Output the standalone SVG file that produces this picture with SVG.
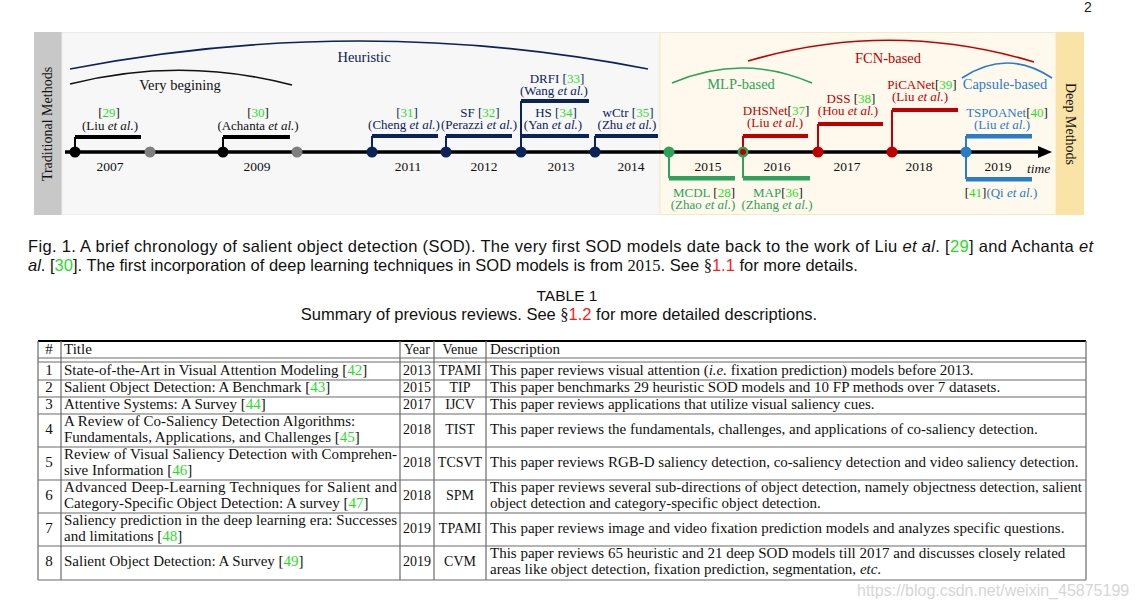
<svg xmlns="http://www.w3.org/2000/svg" width="1137" height="609" viewBox="0 0 1137 609">
<style>
.s{font-family:"Liberation Serif","Times New Roman",serif}
.a{font-family:"Liberation Sans",Arial,sans-serif}
.tl{font-size:13px}
.yr{font-size:13.5px;fill:#111}
.hd{font-size:14.5px}
.vt{font-size:14px}
.navy{fill:#0c2358}
.red{fill:#c00000}
.grn{fill:#2ca25a}
.blu{fill:#2a7cc7}
.cg{fill:#1fe01f}
.k{fill:#111}
.i{font-style:italic}
.tb{font-size:15px;fill:#111}
.yv{font-size:14px}
.cap{font-size:16.5px;fill:#111}
.arc{fill:none;stroke-width:1.6}
.tline{stroke:#6a6a6a;stroke-width:1.2}
</style>
<rect width="1137" height="609" fill="#ffffff"/>
<text class="a" x="1084" y="12" font-size="14" fill="#222">2</text>

<!-- panels -->
<g id="panel-traditional">
<rect x="34" y="32" width="28" height="183" fill="#c8c8c8"/>
<rect x="62" y="32.5" width="598" height="182" fill="#f7f7f7" stroke="#ececec" stroke-width="1"/>
<text class="s vt k" transform="translate(52,124) rotate(-90)" text-anchor="middle">Traditional Methods</text>
</g>
<g id="panel-deep">
<rect x="660" y="32.5" width="396" height="182" fill="#fef9ec" stroke="#f6e8bf" stroke-width="1"/>
<rect x="1056" y="32" width="28" height="183" fill="#fae3a6"/>
<text class="s vt k" transform="translate(1066,124) rotate(90)" text-anchor="middle">Deep Methods</text>
</g>

<!-- connectors -->
<g id="connectors">
<line x1="65" y1="152" x2="1040" y2="152" stroke="#000" stroke-width="3.5"/>
<polygon points="1038,146 1052,152 1038,158" fill="#000"/>
<path class="arc" d="M70,69 Q360,13 648,69" stroke="#0c2358"/>
<path class="arc" d="M70,84 Q181,56 292,85" stroke="#111"/>
<path class="arc" d="M672,83 Q742,53 812,83" stroke="#2ca25a"/>
<path class="arc" d="M748,61 Q891,19 1034,62" stroke="#c00000"/>
<path class="arc" d="M962,78 Q1007,48 1052,78" stroke="#2a7cc7"/>
<g stroke-width="2">
<line x1="75" y1="137" x2="75" y2="152" stroke="#000"/>
<line x1="223" y1="137" x2="223" y2="152" stroke="#000"/>
<line x1="372" y1="136" x2="372" y2="152" stroke="#0c2358"/>
<line x1="446" y1="136" x2="446" y2="152" stroke="#0c2358"/>
<line x1="521" y1="101" x2="521" y2="152" stroke="#0c2358"/>
<line x1="595" y1="136" x2="595" y2="152" stroke="#0c2358"/>
<line x1="669" y1="152" x2="669" y2="178" stroke="#2ca25a"/>
<line x1="743" y1="152" x2="743" y2="178" stroke="#2ca25a"/>
<line x1="743" y1="136" x2="743" y2="152" stroke="#c00000"/>
<line x1="818" y1="124" x2="818" y2="152" stroke="#c00000"/>
<line x1="892" y1="110" x2="892" y2="152" stroke="#c00000"/>
<line x1="966" y1="136" x2="966" y2="179" stroke="#2a7cc7"/>
</g>
</g>

<!-- arc labels -->
<g id="label-heuristic"><text class="s hd navy" x="364" y="62" text-anchor="middle">Heuristic</text></g>
<g id="label-very-begining"><text class="s hd k" x="180" y="90" text-anchor="middle">Very begining</text></g>
<g id="label-mlp"><text class="s hd grn" x="741" y="89" text-anchor="middle">MLP-based</text></g>
<g id="label-fcn"><text class="s hd red" x="888" y="63" text-anchor="middle">FCN-based</text></g>
<g id="label-capsule"><text class="s hd blu" x="1005" y="89" text-anchor="middle">Capsule-based</text></g>

<!-- year labels -->
<g id="years" class="s yr" text-anchor="middle">
<text x="110" y="171">2007</text>
<text x="257" y="171">2009</text>
<text x="408" y="171">2011</text>
<text x="484" y="171">2012</text>
<text x="561" y="171">2013</text>
<text x="631" y="171">2014</text>
<text x="708" y="171">2015</text>
<text x="777" y="171">2016</text>
<text x="847" y="171">2017</text>
<text x="919" y="171">2018</text>
<text x="998" y="171">2019</text>
<text x="1027" y="173" text-anchor="start" class="i">time</text>
</g>

<!-- nodes -->
<g id="node-liu2007">
<rect x="75" y="135" width="66" height="4" fill="#000"/>
<circle cx="75" cy="152" r="5.5" fill="#000"/>
<circle cx="150" cy="152" r="5.5" fill="#7f7f7f"/>
<text class="s tl k" x="109" y="117" text-anchor="middle">[<tspan class="cg">29</tspan>]</text>
<text class="s tl k" x="110" y="130" text-anchor="middle">(Liu <tspan class="i">et al.</tspan>)</text>
</g>
<g id="node-achanta2009">
<rect x="223" y="135" width="67" height="4" fill="#000"/>
<circle cx="223" cy="152" r="5.5" fill="#000"/>
<circle cx="297" cy="152" r="5.5" fill="#7f7f7f"/>
<text class="s tl k" x="258" y="117" text-anchor="middle">[<tspan class="cg">30</tspan>]</text>
<text class="s tl k" x="258" y="130" text-anchor="middle">(Achanta <tspan class="i">et al.</tspan>)</text>
</g>
<g id="node-cheng2011">
<rect x="372" y="134" width="66" height="4" fill="#0c2358"/>
<circle cx="372" cy="152" r="5.5" fill="#0c2358"/>
<text class="s tl navy" x="407" y="117" text-anchor="middle">[<tspan class="cg">31</tspan>]</text>
<text class="s tl navy" x="404" y="129" text-anchor="middle">(Cheng <tspan class="i">et al.</tspan>)</text>
</g>
<g id="node-sf2012">
<rect x="446" y="134" width="66" height="4" fill="#0c2358"/>
<circle cx="446" cy="152" r="5.5" fill="#0c2358"/>
<text class="s tl navy" x="480" y="117" text-anchor="middle">SF [<tspan class="cg">32</tspan>]</text>
<text class="s tl navy" x="479" y="129" text-anchor="middle">(Perazzi <tspan class="i">et al.</tspan>)</text>
</g>
<g id="node-drfi2013">
<rect x="521" y="99" width="68" height="4" fill="#0c2358"/>
<text class="s tl navy" x="557" y="83" text-anchor="middle">DRFI [<tspan class="cg">33</tspan>]</text>
<text class="s tl navy" x="554" y="95" text-anchor="middle">(Wang <tspan class="i">et al.</tspan>)</text>
</g>
<g id="node-hs2013">
<rect x="521" y="134" width="68" height="4" fill="#0c2358"/>
<circle cx="521" cy="152" r="5.5" fill="#0c2358"/>
<text class="s tl navy" x="556" y="117" text-anchor="middle">HS [<tspan class="cg">34</tspan>]</text>
<text class="s tl navy" x="553" y="129" text-anchor="middle">(Yan <tspan class="i">et al.</tspan>)</text>
</g>
<g id="node-wctr2014">
<rect x="595" y="134" width="63" height="4" fill="#0c2358"/>
<circle cx="595" cy="152" r="5.5" fill="#0c2358"/>
<text class="s tl navy" x="628" y="117" text-anchor="middle">wCtr [<tspan class="cg">35</tspan>]</text>
<text class="s tl navy" x="627" y="129" text-anchor="middle">(Zhu <tspan class="i">et al.</tspan>)</text>
</g>
<g id="node-mcdl2015">
<rect x="669" y="176" width="66" height="4.5" fill="#2ca25a"/>
<circle cx="669" cy="152" r="5.5" fill="#2ca25a"/>
<text class="s tl grn" x="704" y="197" text-anchor="middle">MCDL <tspan class="k">[</tspan><tspan class="cg">28</tspan><tspan class="k">]</tspan></text>
<text class="s tl grn" x="703" y="209" text-anchor="middle">(Zhao <tspan class="i">et al.</tspan>)</text>
</g>
<g id="node-map2016">
<rect x="743" y="176" width="67" height="4.5" fill="#2ca25a"/>
<circle cx="743" cy="152" r="5.5" fill="#2ca25a"/>
<circle cx="743" cy="152" r="3" fill="#c00000"/>
<text class="s tl grn" x="778" y="197" text-anchor="middle">MAP<tspan class="k">[</tspan><tspan class="cg">36</tspan><tspan class="k">]</tspan></text>
<text class="s tl grn" x="777" y="209" text-anchor="middle">(Zhang <tspan class="i">et al.</tspan>)</text>
</g>
<g id="node-dhsnet2016">
<rect x="743" y="134" width="65" height="4" fill="#c00000"/>
<text class="s tl red" x="776" y="115" text-anchor="middle">DHSNet<tspan class="k">[</tspan><tspan class="cg">37</tspan><tspan class="k">]</tspan></text>
<text class="s tl red" x="775" y="127" text-anchor="middle">(Liu <tspan class="i">et al.</tspan>)</text>
</g>
<g id="node-dss2017">
<rect x="818" y="122" width="65" height="4" fill="#c00000"/>
<circle cx="818" cy="152" r="5.5" fill="#c00000"/>
<text class="s tl red" x="851" y="103" text-anchor="middle">DSS <tspan class="k">[</tspan><tspan class="cg">38</tspan><tspan class="k">]</tspan></text>
<text class="s tl red" x="848" y="115" text-anchor="middle">(Hou <tspan class="i">et al.</tspan>)</text>
</g>
<g id="node-picanet2018">
<rect x="892" y="108" width="66" height="4" fill="#c00000"/>
<circle cx="892" cy="152" r="5.5" fill="#c00000"/>
<text class="s tl red" x="922" y="89" text-anchor="middle">PiCANet<tspan class="k">[</tspan><tspan class="cg">39</tspan><tspan class="k">]</tspan></text>
<text class="s tl red" x="920" y="101" text-anchor="middle">(Liu <tspan class="i">et al.</tspan>)</text>
</g>
<g id="node-tspoanet2019">
<rect x="966" y="134" width="66" height="4.5" fill="#2a7cc7"/>
<circle cx="966" cy="152" r="5.5" fill="#2a7cc7"/>
<text class="s tl blu" x="1007" y="117" text-anchor="middle">TSPOANet<tspan class="k">[</tspan><tspan class="cg">40</tspan><tspan class="k">]</tspan></text>
<text class="s tl blu" x="1002" y="129" text-anchor="middle">(Liu <tspan class="i">et al.</tspan>)</text>
</g>
<g id="node-qi2019">
<rect x="966" y="177" width="66" height="4.5" fill="#2a7cc7"/>
<text class="s tl blu" x="1001" y="197" text-anchor="middle"><tspan class="k">[</tspan><tspan class="cg">41</tspan><tspan class="k">]</tspan>(Qi <tspan class="i">et al.</tspan>)</text>
</g>

<!-- caption -->
<g id="caption" class="a cap">
<text x="28" y="252" textLength="1065" lengthAdjust="spacing">Fig. 1. A brief chronology of salient object detection (SOD). The very first SOD models date back to the work of Liu <tspan class="i">et al</tspan>. [<tspan class="cg">29</tspan>] and Achanta <tspan class="i">et</tspan></text>
<text x="28" y="271"><tspan class="i">al</tspan>. [<tspan class="cg">30</tspan>]. The first incorporation of deep learning techniques in SOD models is from <tspan class="s">2015</tspan>. See <tspan class="s">§</tspan><tspan fill="#ff1a1a">1.1</tspan> for more details.</text>
<text x="567" y="301" text-anchor="middle" font-size="15.5">TABLE 1</text>
<text x="559" y="320" text-anchor="middle">Summary of previous reviews. See <tspan class="s">§</tspan><tspan fill="#ff1a1a">1.2</tspan> for more detailed descriptions.</text>
</g>

<!-- table -->
<g id="table">
<line x1="38" y1="341" x2="1086" y2="341" stroke="#000" stroke-width="2"/>
<g class="tline">
<line x1="38" y1="358" x2="1086" y2="358"/>
<line x1="38" y1="362" x2="1086" y2="362"/>
<line x1="38" y1="380" x2="1086" y2="380"/>
<line x1="38" y1="397" x2="1086" y2="397"/>
<line x1="38" y1="414" x2="1086" y2="414"/>
<line x1="38" y1="447" x2="1086" y2="447"/>
<line x1="38" y1="480" x2="1086" y2="480"/>
<line x1="38" y1="513" x2="1086" y2="513"/>
<line x1="38" y1="546" x2="1086" y2="546"/>
<line x1="38" y1="580" x2="1086" y2="580"/>
<line x1="38" y1="341" x2="38" y2="580"/>
<line x1="61" y1="341" x2="61" y2="580"/>
<line x1="400" y1="341" x2="400" y2="580"/>
<line x1="434" y1="341" x2="434" y2="580"/>
<line x1="486" y1="341" x2="486" y2="580"/>
<line x1="1086" y1="341" x2="1086" y2="580"/>
</g>
<g class="s tb">
<text x="49" y="354" text-anchor="middle">#</text>
<text x="64" y="354">Title</text>
<text x="417" y="354" text-anchor="middle" class="yv">Year</text>
<text x="460" y="354" text-anchor="middle" class="yv">Venue</text>
<text x="490" y="354">Description</text>

<text x="49" y="375" text-anchor="middle">1</text>
<text x="64" y="375">State-of-the-Art in Visual Attention Modeling [<tspan class="cg">42</tspan>]</text>
<text x="417" y="375" text-anchor="middle" class="yv">2013</text>
<text x="460" y="375" text-anchor="middle" class="yv">TPAMI</text>
<text x="490" y="375">This paper reviews visual attention (<tspan class="i">i.e.</tspan> fixation prediction) models before 2013.</text>

<text x="49" y="392" text-anchor="middle">2</text>
<text x="64" y="392">Salient Object Detection: A Benchmark [<tspan class="cg">43</tspan>]</text>
<text x="417" y="392" text-anchor="middle" class="yv">2015</text>
<text x="460" y="392" text-anchor="middle" class="yv">TIP</text>
<text x="490" y="392">This paper benchmarks 29 heuristic SOD models and 10 FP methods over 7 datasets.</text>

<text x="49" y="409" text-anchor="middle">3</text>
<text x="64" y="409">Attentive Systems: A Survey [<tspan class="cg">44</tspan>]</text>
<text x="417" y="409" text-anchor="middle" class="yv">2017</text>
<text x="460" y="409" text-anchor="middle" class="yv">IJCV</text>
<text x="490" y="409">This paper reviews applications that utilize visual saliency cues.</text>

<text x="49" y="434" text-anchor="middle">4</text>
<text x="64" y="426">A Review of Co-Saliency Detection Algorithms:</text>
<text x="64" y="442">Fundamentals, Applications, and Challenges [<tspan class="cg">45</tspan>]</text>
<text x="417" y="434" text-anchor="middle" class="yv">2018</text>
<text x="460" y="434" text-anchor="middle" class="yv">TIST</text>
<text x="490" y="434">This paper reviews the fundamentals, challenges, and applications of co-saliency detection.</text>

<text x="49" y="467" text-anchor="middle">5</text>
<text x="64" y="459" textLength="333" lengthAdjust="spacing">Review of Visual Saliency Detection with Comprehen-</text>
<text x="64" y="475">sive Information [<tspan class="cg">46</tspan>]</text>
<text x="417" y="467" text-anchor="middle" class="yv">2018</text>
<text x="460" y="467" text-anchor="middle" class="yv">TCSVT</text>
<text x="490" y="467">This paper reviews RGB-D saliency detection, co-saliency detection and video saliency detection.</text>

<text x="49" y="500" text-anchor="middle">6</text>
<text x="64" y="492" textLength="333" lengthAdjust="spacing">Advanced Deep-Learning Techniques for Salient and</text>
<text x="64" y="508">Category-Specific Object Detection: A survey [<tspan class="cg">47</tspan>]</text>
<text x="417" y="500" text-anchor="middle" class="yv">2018</text>
<text x="460" y="500" text-anchor="middle" class="yv">SPM</text>
<text x="490" y="492" textLength="592" lengthAdjust="spacing">This paper reviews several sub-directions of object detection, namely objectness detection, salient</text>
<text x="490" y="508">object detection and category-specific object detection.</text>

<text x="49" y="533" text-anchor="middle">7</text>
<text x="64" y="525" textLength="333" lengthAdjust="spacing">Saliency prediction in the deep learning era: Successes</text>
<text x="64" y="541">and limitations [<tspan class="cg">48</tspan>]</text>
<text x="417" y="533" text-anchor="middle" class="yv">2019</text>
<text x="460" y="533" text-anchor="middle" class="yv">TPAMI</text>
<text x="490" y="533">This paper reviews image and video fixation prediction models and analyzes specific questions.</text>

<text x="49" y="566" text-anchor="middle">8</text>
<text x="64" y="566">Salient Object Detection: A Survey [<tspan class="cg">49</tspan>]</text>
<text x="417" y="566" text-anchor="middle" class="yv">2019</text>
<text x="460" y="566" text-anchor="middle" class="yv">CVM</text>
<text x="490" y="558">This paper reviews 65 heuristic and 21 deep SOD models till 2017 and discusses closely related</text>
<text x="490" y="574">areas like object detection, fixation prediction, segmentation, <tspan class="i">etc</tspan>.</text>
</g>
</g>

<text class="a" x="857" y="596" font-size="16" fill="#d6d6d6">https://blog.csdn.net/weixin_45875199</text>
</svg>
